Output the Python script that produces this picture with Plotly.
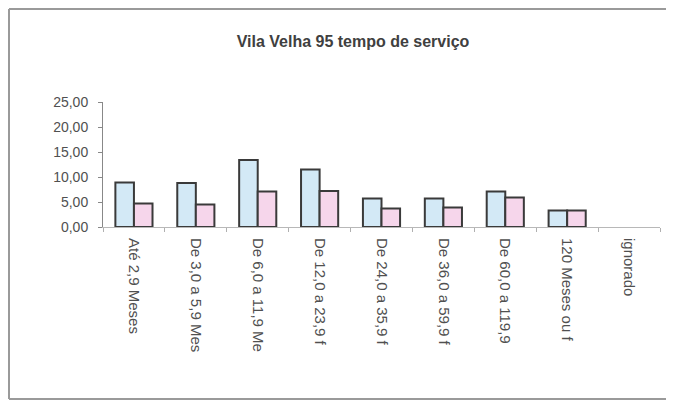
import plotly.graph_objects as go

# Vila Velha 95 - tempo de serviço
categorias = [
    "Até 2,9 Meses",
    "De 3,0 a 5,9 Mes",
    "De 6,0 a 11,9 Me",
    "De 12,0 a 23,9 f",
    "De 24,0 a 35,9 f",
    "De 36,0 a 59,9 f",
    "De 60,0 a 119,9",
    "120 Meses ou f",
    "ignorado",
]
serie_azul = [8.9, 8.8, 13.4, 11.5, 5.7, 5.7, 7.1, 3.3, None]
serie_rosa = [4.7, 4.5, 7.1, 7.2, 3.7, 3.9, 5.9, 3.3, None]
y_ticks = [0, 5, 10, 15, 20, 25]
y_tick_labels = ["0,00", "5,00", "10,00", "15,00", "20,00", "25,00"]

COLORS = {
    "azul": "#d3e9f6",
    "rosa": "#f6d6eb",
    "borda": "#3a3a3a",
    "texto": "#505050",
    "frame": "#9a9a9a",
}

FONT = "Liberation Sans, Arial, sans-serif"

fig = go.Figure()

fig.add_trace(go.Bar(
    x=categorias,
    y=serie_azul,
    marker=dict(color=COLORS["azul"], line=dict(color=COLORS["borda"], width=2)),
))
fig.add_trace(go.Bar(
    x=categorias,
    y=serie_rosa,
    marker=dict(color=COLORS["rosa"], line=dict(color=COLORS["borda"], width=2)),
))

# the page body has an 8px margin on every side, keep the figure inside it
OFF = 8
W, H = 674 - 2 * OFF, 408 - 2 * OFF
# plot area in window pixels: left 103, right 660, top 102, bottom 227
L, R, T, B = 103 - OFF, 660 - OFF, 102 - OFF, 227 - OFF


def px_x(p):
    return (p - OFF - L) / (R - L)


def px_y(p):
    return (B - (p - OFF)) / (B - T)


# open frame: top, left and bottom edges, running off the right edge of the page
x_l, x_r = px_x(9), px_x(760)
y_t, y_b = px_y(9), px_y(399)
frame = dict(type="line", xref="paper", yref="paper",
             line=dict(color=COLORS["frame"], width=2))
fig.add_shape(**frame, x0=x_l, x1=x_r, y0=y_t, y1=y_t)
fig.add_shape(**frame, x0=x_l, x1=x_l, y0=y_t, y1=y_b)
fig.add_shape(**frame, x0=x_l, x1=x_r, y0=y_b, y1=y_b)

fig.update_layout(
    width=W,
    height=H,
    barmode="group",
    bargap=0.4,
    bargroupgap=0,
    showlegend=False,
    paper_bgcolor="white",
    plot_bgcolor="white",
    font=dict(family=FONT, size=12, color=COLORS["texto"]),
    margin=dict(l=L, r=W - R, t=T, b=H - B, pad=0),
    title=dict(
        text="Vila Velha 95 tempo de serviço",
        x=(353 - OFF) / W,
        xanchor="center",
        y=1 - (41 - OFF) / H,
        yanchor="middle",
        font=dict(family=FONT, size=16, color="#404040", weight="bold"),
    ),
)

fig.update_xaxes(
    type="category",
    tickangle=90,
    tickson="boundaries",
    ticks="outside",
    ticklen=4,
    tickcolor="#b0b0b0",
    ticklabelstandoff=7,
    showline=True,
    linecolor="#b8b8b8",
    linewidth=1,
    showgrid=False,
    tickfont=dict(size=15, color=COLORS["texto"]),
)
fig.update_yaxes(
    range=[0, 25],
    tickvals=y_ticks,
    ticktext=y_tick_labels,
    ticks="outside",
    ticklen=4,
    tickcolor="#888888",
    ticklabelstandoff=7,
    showline=True,
    linecolor="#888888",
    linewidth=1,
    showgrid=False,
    zeroline=False,
    tickfont=dict(size=14, color=COLORS["texto"]),
)

fig.write_html("out.html")
